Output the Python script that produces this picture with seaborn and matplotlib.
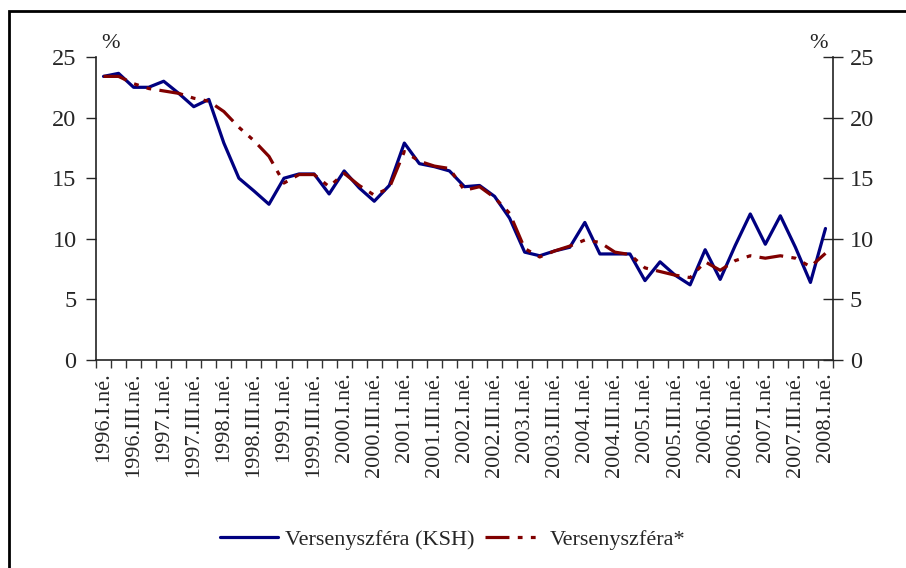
import matplotlib
matplotlib.use("Agg")
import matplotlib.pyplot as plt
import seaborn as sns
import pandas as pd
from matplotlib.patches import Rectangle
from matplotlib.ticker import FixedLocator, NullFormatter

sns.set_theme(style="white")
plt.rcParams["font.family"] = ["Liberation Serif", "DejaVu Serif"]

years = list(range(1996, 2009))
quarters = ["I", "II", "III", "IV"]
periods = [f"{y}.{q}.né." for y in years for q in quarters][:49]

ksh = [23.4, 23.65, 22.5, 22.5, 23.0, 22.0, 20.9, 21.5, 17.9, 15.0,
       13.95, 12.85, 15.0, 15.35, 15.35, 13.7, 15.6, 14.2, 13.1, 14.4,
       17.9, 16.2, 15.95, 15.6, 14.3, 14.4, 13.5, 11.7, 8.9, 8.6,
       9.0, 9.3, 11.35, 8.75, 8.75, 8.75, 6.55, 8.1, 7.0, 6.2,
       9.1, 6.65, 9.45, 12.05, 9.55, 11.9, 9.3, 6.4, 10.85]
adjusted = [23.4, 23.4, 22.8, 22.4, 22.2, 22.0, 21.6, 21.35, 20.5, 19.2,
            18.1, 16.8, 14.6, 15.3, 15.3, 14.3, 15.4, 14.4, 13.6, 14.2,
            17.2, 16.4, 16.0, 15.8, 14.0, 14.3, 13.4, 12.1, 9.2, 8.5,
            9.0, 9.4, 9.9, 9.7, 8.9, 8.7, 7.6, 7.3, 7.0, 6.8,
            8.1, 7.4, 8.2, 8.6, 8.4, 8.6, 8.4, 7.7, 8.8]

df = pd.DataFrame({
    "pos": list(range(len(periods))) * 2,
    "value": ksh + adjusted,
    "series": ["Versenyszféra (KSH)"] * len(ksh) + ["Versenyszféra*"] * len(adjusted),
})

W, H = 906, 568
fig = plt.figure(figsize=(W / 100, H / 100), dpi=100)
ax = fig.add_axes([96 / W, 1 - 360 / H, (833 - 96) / W, (360 - 57) / H])

sns.lineplot(
    data=df, x="pos", y="value", hue="series", style="series",
    palette={"Versenyszféra (KSH)": "#000080", "Versenyszféra*": "#800000"},
    dashes={"Versenyszféra (KSH)": "", "Versenyszféra*": (7.5, 2.6, 1.5, 2.6, 1.5, 2.6)},
    linewidth=2.3, ax=ax, legend=True,
)
handles, labels = ax.get_legend_handles_labels()
ax.get_legend().remove()

n = len(periods)
ax.set_xlim(-0.5, n - 0.5)
ax.set_ylim(0, 25)
ax.set_xlabel("")
ax.set_ylabel("")

# tick marks on category boundaries, labels on every second category
ax.xaxis.set_major_locator(FixedLocator([i - 0.5 for i in range(n + 1)]))
ax.xaxis.set_major_formatter(NullFormatter())
ax.xaxis.set_minor_locator(FixedLocator(list(range(0, n, 2))))
ax.set_xticklabels([periods[i] for i in range(0, n, 2)], minor=True,
                   rotation=90, fontsize=16)
ax.tick_params(axis="x", which="major", direction="out", length=6, width=1, color="#333333", bottom=True)
ax.tick_params(axis="x", which="minor", length=0, pad=9)

ax.set_yticks([0, 5, 10, 15, 20, 25])
ax.tick_params(axis="y", direction="out", length=7, width=1, labelsize=17.5, pad=7, left=True)

for side in ["top", "right"]:
    ax.spines[side].set_visible(False)
for side in ["left", "bottom"]:
    ax.spines[side].set_color("#222222")
    ax.spines[side].set_linewidth(1.2)

ax2 = ax.twinx()
ax2.set_ylim(0, 25)
ax2.set_yticks([0, 5, 10, 15, 20, 25])
ax2.tick_params(axis="y", direction="inout", length=14, width=1, labelsize=17.5, pad=5, right=True)
for side in ["top", "left", "bottom"]:
    ax2.spines[side].set_visible(False)
ax2.spines["right"].set_color("#222222")
ax2.spines["right"].set_linewidth(1.2)
ax2.grid(False)

fig.text(110 / W, 1 - 44 / H, "%", fontsize=16, ha="center", va="center", color="#222222")
fig.text(818 / W, 1 - 44 / H, "%", fontsize=16, ha="center", va="center", color="#222222")

fig.legend(handles, labels, loc="center", bbox_to_anchor=(0.5, 1 - 540 / H),
           ncol=2, frameon=False, fontsize=16, handlelength=2.6,
           handletextpad=0.3, columnspacing=0.5)

# outer frame, open at right and bottom edges
fig.add_artist(Rectangle((9 / W, -0.1), 1.2, 1 - 11 / H + 0.1, transform=fig.transFigure,
                         fill=False, edgecolor="black", linewidth=2))

fig.savefig("out.png", dpi=100)
